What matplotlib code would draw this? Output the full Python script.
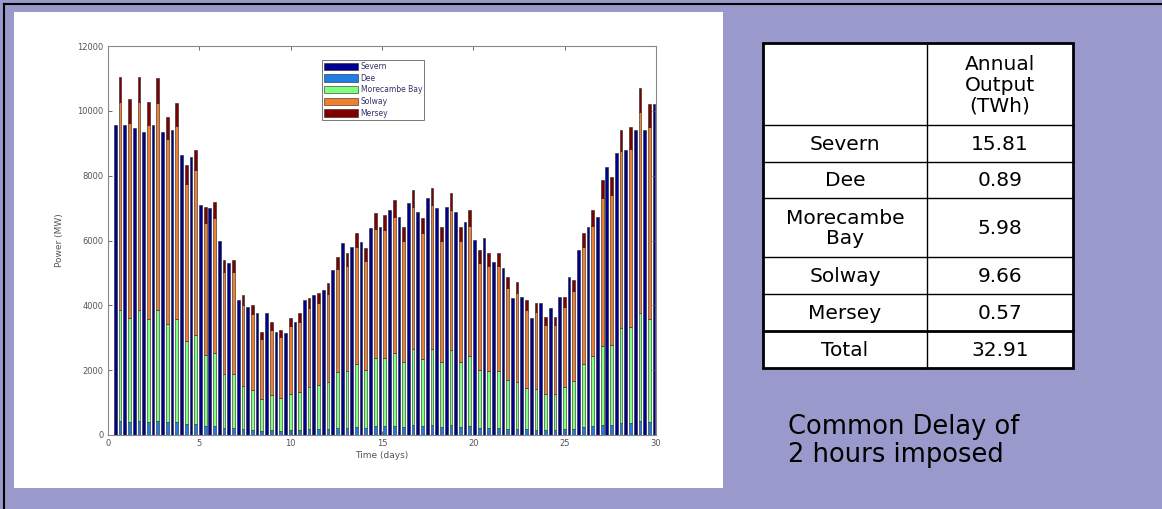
import numpy as np
import matplotlib.pyplot as plt
from matplotlib.patches import Rectangle

plt.rcParams['font.family'] = ['DejaVu Sans']

# tidal power per tide (MW)
# Severn pulses come first, the north-west estuaries (Dee, Morecambe Bay, Solway, Mersey) follow
first_tide = 0.40      # day of the first Severn pulse
tide_period = 0.5175   # days between tides
nw_lag = 0.26          # days between Severn pulse and north-west pulse

severn = [9560, 9560, 9470, 9350, 9560, 9350, 9410, 8640, 8580, 7100,
          7000, 6000, 5300, 4160, 3950, 3760, 3760, 3180, 3150, 3490,
          4160, 4320, 4470, 5090, 5920, 5800, 5950, 6390, 6420, 6940,
          6730, 7160, 6880, 7310, 7000, 7030, 6880, 6570, 6020, 6080,
          5340, 5150, 4230, 4260, 3610, 4070, 3920, 4260, 4880, 5700,
          6420, 6730, 8270, 8700, 8790, 9410, 9410, 10200]
dee = [440, 410, 440, 410, 440, 390, 410, 330, 350, 280,
       290, 220, 220, 170, 160, 130, 140, 130, 140, 150,
       170, 180, 190, 220, 220, 250, 230, 270, 270, 290,
       260, 300, 270, 300, 260, 300, 260, 280, 230, 220,
       220, 200, 190, 170, 160, 150, 150, 170, 190, 250,
       280, 310, 320, 380, 380, 430, 410, 390]
morecambe = [3420, 3210, 3420, 3180, 3410, 3040, 3170, 2580, 2720, 2180,
             2230, 1670, 1670, 1340, 1240, 990, 1080, 1000, 1120, 1170,
             1310, 1360, 1450, 1710, 1740, 1930, 1790, 2120, 2100, 2250,
             1990, 2340, 2070, 2360, 1990, 2320, 1990, 2150, 1770, 1740,
             1740, 1510, 1460, 1290, 1260, 1130, 1130, 1320, 1480, 1930,
             2150, 2440, 2470, 2920, 2950, 3320, 3160, 3040]
solway = [6410, 6010, 6410, 5960, 6390, 5690, 5940, 4840, 5100, 4080,
          4170, 3130, 3130, 2510, 2330, 1840, 2030, 1880, 2100, 2180,
          2440, 2530, 2720, 3180, 3260, 3610, 3350, 3980, 3940, 4200,
          3720, 4390, 3880, 4430, 3720, 4330, 3720, 4020, 3310, 3250,
          3260, 2830, 2740, 2410, 2370, 2110, 2110, 2470, 2780, 3610,
          4020, 4560, 4610, 5450, 5500, 6200, 5920, 5680]
mersey = [770, 730, 770, 720, 770, 690, 720, 580, 620, 490,
          500, 380, 380, 300, 280, 220, 240, 230, 250, 260,
          300, 310, 330, 390, 390, 440, 400, 480, 480, 510,
          450, 530, 470, 530, 450, 520, 450, 490, 400, 390,
          390, 340, 330, 290, 280, 250, 250, 300, 330, 440,
          490, 550, 560, 660, 670, 750, 710, 690]

names = ['Severn', 'Dee', 'Morecambe Bay', 'Solway', 'Mersey']
colours = ['#00008f', '#1f7fe0', '#80ff80', '#f08030', '#800000']

# table on the right
table_rows = ['Severn', 'Dee', 'Morecambe\nBay', 'Solway', 'Mersey', 'Total']
table_vals = ['15.81', '0.89', '5.98', '9.66', '0.57', '32.91']

W, H = 1162, 509
fig = plt.figure(figsize=(W / 100, H / 100), dpi=100)
fig.patch.set_facecolor('#9999cc')

# background layer in pixel coordinates
bg = fig.add_axes([0, 0, 1, 1])
bg.set_xlim(0, W)
bg.set_ylim(H, 0)
bg.axis('off')
bg.plot([4, W], [4, 4], color='black', lw=1.5)
bg.plot([4, 4], [4, H], color='black', lw=1.5)
bg.add_patch(Rectangle((14, 12), 709, 476, facecolor='white', edgecolor='none'))

# table
tx0, tx1, tx2 = 763, 927, 1073
row_edges = [43, 125, 162, 198, 257, 294, 331, 368]
bg.add_patch(Rectangle((tx0, row_edges[0]), tx2 - tx0, row_edges[-1] - row_edges[0],
                       facecolor='white', edgecolor='black', lw=2.0))
bg.plot([tx1, tx1], [row_edges[0], row_edges[-1]], color='black', lw=1.0)
for k, y in enumerate(row_edges[1:-1]):
    bg.plot([tx0, tx2], [y, y], color='black', lw=2.0 if k == 5 else 1.0)
bg.text((tx1 + tx2) / 2, (row_edges[0] + row_edges[1]) / 2 + 1, 'Annual\nOutput\n(TWh)',
        ha='center', va='center', fontsize=14.5, linespacing=1.1)
for k in range(len(table_rows)):
    yc = (row_edges[k + 1] + row_edges[k + 2]) / 2 + 1
    bg.text((tx0 + tx1) / 2, yc, table_rows[k], ha='center', va='center',
            fontsize=14.5, linespacing=1.1)
    bg.text((tx1 + tx2) / 2, yc, table_vals[k], ha='center', va='center', fontsize=14.5)

bg.text(788, 434, 'Common Delay of', ha='left', va='baseline', fontsize=18.5)
bg.text(788, 462, '2 hours imposed', ha='left', va='baseline', fontsize=18.5)

# the chart
ax = fig.add_axes([108 / W, 1 - 435 / H, 548 / W, 389 / H])
ax.set_facecolor('white')

t_severn = first_tide + tide_period * np.arange(len(severn))
t_nw = t_severn + nw_lag
width = 0.15
edge = dict(edgecolor='#222222', linewidth=0.4)

ax.bar(t_severn, severn, width, color=colours[0], label=names[0], **edge)
bottom = np.zeros(len(severn))
for name, vals, c in zip(names[1:], [dee, morecambe, solway, mersey], colours[1:]):
    ax.bar(t_nw, vals, width, bottom=bottom, color=c, label=name, **edge)
    bottom = bottom + np.array(vals)

ax.set_xlim(0, 30)
ax.set_ylim(0, 12000)
ax.set_xticks(range(0, 31, 5))
ax.set_yticks(range(0, 12001, 2000))
ax.tick_params(direction='in', length=3, width=0.6, labelsize=6, colors='#555555',
               top=True, right=True, pad=3)
for s in ax.spines.values():
    s.set_color('#888888')
    s.set_linewidth(0.8)
ax.set_xlabel('Time (days)', fontsize=6.5, color='#555555', labelpad=2)
ax.set_ylabel('Power (MW)', fontsize=6.5, color='#555555', labelpad=10)

leg = ax.legend(loc='upper left', bbox_to_anchor=(0.383, 0.975), fontsize=5.5,
                handlelength=4.5, handleheight=1.1, labelspacing=0.35, borderpad=0.3,
                handletextpad=0.3, fancybox=False, framealpha=1)
leg.get_frame().set_edgecolor('#777777')
leg.get_frame().set_linewidth(0.7)
for txt in leg.get_texts():
    txt.set_color('#333366')

fig.savefig('out.png', dpi=100, facecolor=fig.get_facecolor())
